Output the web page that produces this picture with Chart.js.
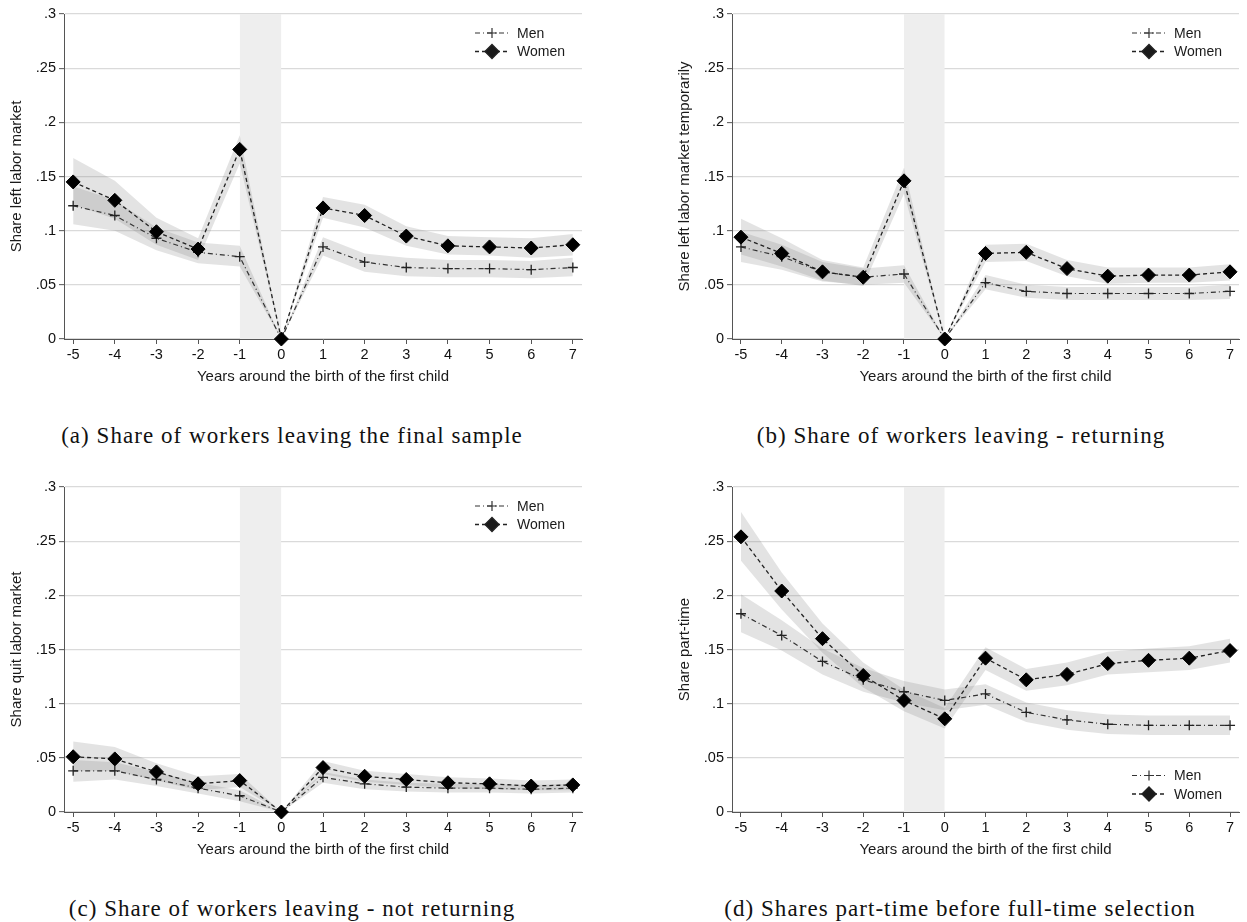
<!DOCTYPE html>
<html>
<head>
<meta charset="utf-8">
<script src="https://cdn.jsdelivr.net/npm/chart.js@4.4.1/dist/chart.umd.min.js"></script>
<style>
  body { margin: 0; background: #fff; width: 1247px; height: 922px; position: relative; overflow: hidden; }
  canvas { position: absolute; }
  .cap { position: absolute; font-family: "Liberation Serif", serif; font-size: 23px; letter-spacing: 1.05px; color: #111; white-space: nowrap; transform: translateX(-50%); }
</style>
</head>
<body>
<canvas id="chA" width="600" height="400" style="left:0;top:0"></canvas>
<canvas id="chB" width="579" height="400" style="left:668px;top:0"></canvas>
<canvas id="chC" width="600" height="400" style="left:0;top:473px"></canvas>
<canvas id="chD" width="579" height="400" style="left:668px;top:473px"></canvas>
<div class="cap" style="left:292px;top:423px">(a) Share of workers leaving the final sample</div>
<div class="cap" style="left:961px;top:423px">(b) Share of workers leaving - returning</div>
<div class="cap" style="left:292px;top:896px">(c) Share of workers leaving - not returning</div>
<div class="cap" style="left:960px;top:896px">(d) Shares part-time before full-time selection</div>
<script>
// years around birth
var years = [-5, -4, -3, -2, -1, 0, 1, 2, 3, 4, 5, 6, 7];
var yTicks = [0, 0.05, 0.1, 0.15, 0.2, 0.25, 0.3];
var yTickLabels = ['0', '.05', '.1', '.15', '.2', '.25', '.3'];
var shadeYears = [-1, 0];

// (a) leaving the final sample
var aWomen   = [0.145, 0.128, 0.099, 0.083, 0.175, 0, 0.121, 0.114, 0.095, 0.086, 0.085, 0.084, 0.087];
var aWomenLo = [0.124, 0.111, 0.087, 0.073, 0.162, 0, 0.112, 0.103, 0.086, 0.078, 0.077, 0.075, 0.077];
var aWomenHi = [0.167, 0.146, 0.112, 0.093, 0.188, 0, 0.131, 0.124, 0.104, 0.095, 0.094, 0.093, 0.097];
var aMen     = [0.123, 0.114, 0.093, 0.080, 0.076, 0, 0.085, 0.071, 0.066, 0.065, 0.065, 0.064, 0.066];
var aMenLo   = [0.106, 0.100, 0.082, 0.070, 0.067, 0, 0.077, 0.062, 0.058, 0.057, 0.057, 0.056, 0.058];
var aMenHi   = [0.141, 0.128, 0.103, 0.089, 0.086, 0, 0.094, 0.079, 0.075, 0.073, 0.073, 0.072, 0.075];

// (b) leaving - returning
var bWomen   = [0.094, 0.079, 0.062, 0.057, 0.146, 0, 0.079, 0.080, 0.065, 0.058, 0.059, 0.059, 0.062];
var bWomenLo = [0.078, 0.067, 0.054, 0.049, 0.134, 0, 0.071, 0.072, 0.058, 0.051, 0.052, 0.052, 0.054];
var bWomenHi = [0.111, 0.093, 0.073, 0.066, 0.158, 0, 0.087, 0.088, 0.073, 0.066, 0.066, 0.066, 0.069];
var bMen     = [0.085, 0.076, 0.062, 0.057, 0.060, 0, 0.052, 0.044, 0.042, 0.042, 0.042, 0.042, 0.044];
var bMenLo   = [0.071, 0.064, 0.053, 0.050, 0.052, 0, 0.046, 0.038, 0.036, 0.036, 0.036, 0.036, 0.037];
var bMenHi   = [0.099, 0.087, 0.071, 0.065, 0.068, 0, 0.059, 0.050, 0.048, 0.048, 0.048, 0.048, 0.050];

// (c) leaving - not returning
var cWomen   = [0.051, 0.049, 0.037, 0.026, 0.029, 0, 0.041, 0.033, 0.030, 0.027, 0.026, 0.024, 0.025];
var cWomenLo = [0.038, 0.038, 0.029, 0.020, 0.023, 0, 0.035, 0.028, 0.025, 0.022, 0.021, 0.020, 0.020];
var cWomenHi = [0.065, 0.060, 0.045, 0.033, 0.035, 0, 0.047, 0.038, 0.035, 0.032, 0.031, 0.029, 0.030];
var cMen     = [0.038, 0.038, 0.030, 0.022, 0.015, 0, 0.032, 0.026, 0.023, 0.022, 0.022, 0.021, 0.022];
var cMenLo   = [0.028, 0.030, 0.024, 0.017, 0.010, 0, 0.027, 0.021, 0.019, 0.018, 0.018, 0.017, 0.018];
var cMenHi   = [0.048, 0.046, 0.037, 0.027, 0.020, 0, 0.037, 0.030, 0.027, 0.026, 0.026, 0.025, 0.026];

// (d) part-time before full-time selection
var dWomen   = [0.254, 0.204, 0.160, 0.126, 0.103, 0.086, 0.142, 0.122, 0.127, 0.137, 0.140, 0.142, 0.149];
var dWomenLo = [0.232, 0.187, 0.147, 0.115, 0.093, 0.077, 0.131, 0.112, 0.117, 0.127, 0.129, 0.131, 0.138];
var dWomenHi = [0.277, 0.221, 0.174, 0.138, 0.113, 0.096, 0.152, 0.132, 0.138, 0.148, 0.151, 0.153, 0.160];
var dMen     = [0.183, 0.163, 0.139, 0.122, 0.111, 0.103, 0.109, 0.092, 0.085, 0.081, 0.080, 0.080, 0.080];
var dMenLo   = [0.166, 0.149, 0.127, 0.111, 0.101, 0.094, 0.099, 0.083, 0.076, 0.072, 0.071, 0.071, 0.071];
var dMenHi   = [0.201, 0.177, 0.151, 0.133, 0.121, 0.113, 0.118, 0.101, 0.094, 0.090, 0.089, 0.089, 0.089];

var font = 'Liberation Sans';
var ciColor = 'rgba(128,128,128,0.22)';

function pts(vals) {
  return vals.map(function (v, i) { return { x: years[i], y: v }; });
}

// legend drawn inside the plot area, like the Stata one
var insideLegend = {
  id: 'insideLegend',
  afterDatasetsDraw: function (chart, args, opts) {
    var ctx = chart.ctx, area = chart.chartArea;
    var items = chart.data.datasets.filter(function (d) { return d.inLegend; });
    var y0 = opts.pos === 'bottom' ? area.bottom - 18 - 18.5 * (items.length - 1) : area.top + 19;
    ctx.save();
    items.forEach(function (d, i) {
      var y = y0 + i * 18.5;
      var x1 = area.right - 107, x2 = area.right - 73;
      ctx.strokeStyle = d.borderColor;
      ctx.lineWidth = d.borderWidth;
      ctx.setLineDash(d.borderDash);
      ctx.beginPath(); ctx.moveTo(x1, y); ctx.lineTo(x2, y); ctx.stroke();
      ctx.setLineDash([]);
      Chart.helpers.drawPoint(ctx, {
        pointStyle: d.pointStyle, radius: d.pointRadius, rotation: 0,
        borderWidth: d.pointBorderWidth
      }, (x1 + x2) / 2, y);
      ctx.fillStyle = '#1a1a1a';
      ctx.font = '14px "' + font + '"';
      ctx.textBaseline = 'middle';
      ctx.textAlign = 'left';
      ctx.fillText(d.label, area.right - 65, y + 1);
    });
    ctx.restore();
  }
};

function makeChart(id, yTitle, men, menLo, menHi, women, womenLo, womenHi, legendPos, padRight) {
  var datasets = [
    { data: shadeYears.map(function (v) { return { x: v, y: 0.3 }; }), fill: 'origin',
      backgroundColor: '#eeeeee', borderWidth: 0, pointRadius: 0, order: 10 },
    { data: pts(womenHi), borderWidth: 0, pointRadius: 0, fill: false, order: 6 },
    { data: pts(womenLo), borderWidth: 0, pointRadius: 0, fill: '-1', backgroundColor: ciColor, order: 6 },
    { data: pts(menHi), borderWidth: 0, pointRadius: 0, fill: false, order: 5 },
    { data: pts(menLo), borderWidth: 0, pointRadius: 0, fill: '-1', backgroundColor: ciColor, order: 5 },
    { label: 'Men', inLegend: true, data: pts(men), borderColor: '#333', borderWidth: 1.2,
      borderDash: [5, 3, 1, 3], pointStyle: 'cross', pointRadius: 5, pointBorderWidth: 1.3,
      pointBorderColor: '#222', fill: false, order: 1, clip: false },
    { label: 'Women', inLegend: true, data: pts(women), borderColor: '#222', borderWidth: 1.3,
      borderDash: [4, 3], pointStyle: 'rectRot', pointRadius: 7, pointBorderWidth: 1,
      pointBackgroundColor: '#000', pointBorderColor: '#000', fill: false, order: 0, clip: false }
  ];
  return new Chart(document.getElementById(id), {
    type: 'line',
    data: { datasets: datasets },
    plugins: [insideLegend],
    options: {
      responsive: false,
      animation: false,
      devicePixelRatio: 1,
      layout: { padding: { top: 14, right: padRight, left: 0, bottom: 0 } },
      plugins: {
        legend: { display: false },
        tooltip: { enabled: false },
        insideLegend: { pos: legendPos }
      },
      scales: {
        x: {
          type: 'linear', min: -5.22, max: 7.22,
          afterBuildTicks: function (s) { s.ticks = years.map(function (v) { return { value: v }; }); },
          afterFit: function (s) { s.height = 61; },
          grid: { drawOnChartArea: false, tickLength: 5, tickColor: '#555', tickWidth: 1 },
          border: { color: '#555', width: 1 },
          ticks: { color: '#111', font: { family: font, size: 14.5 }, padding: 2, maxRotation: 0 },
          title: { display: true, text: 'Years around the birth of the first child', color: '#1a1a1a',
                   font: { family: font, size: 15 }, padding: { top: 0, bottom: 14 } }
        },
        y: {
          min: 0, max: 0.3,
          afterBuildTicks: function (s) { s.ticks = yTicks.map(function (v) { return { value: v }; }); },
          afterFit: function (s) { s.width = 64; },
          grid: { color: '#dadada', lineWidth: 1.3, tickLength: 5, tickColor: '#555', tickWidth: 1 },
          border: { color: '#555', width: 1 },
          ticks: { color: '#111', font: { family: font, size: 14.5 }, padding: 3,
                   callback: function (v, i) { return yTickLabels[i]; } },
          title: { display: true, text: yTitle, color: '#1a1a1a',
                   font: { family: font, size: 15 }, padding: { top: 8, bottom: 0 } }
        }
      }
    }
  });
}

makeChart('chA', 'Share left labor market', aMen, aMenLo, aMenHi, aWomen, aWomenLo, aWomenHi, 'top', 18);
makeChart('chB', 'Share left labor market temporarily', bMen, bMenLo, bMenHi, bWomen, bWomenLo, bWomenHi, 'top', 0);
makeChart('chC', 'Share quit labor market', cMen, cMenLo, cMenHi, cWomen, cWomenLo, cWomenHi, 'top', 18);
makeChart('chD', 'Share part-time', dMen, dMenLo, dMenHi, dWomen, dWomenLo, dWomenHi, 'bottom', 0);
</script>
</body>
</html>
